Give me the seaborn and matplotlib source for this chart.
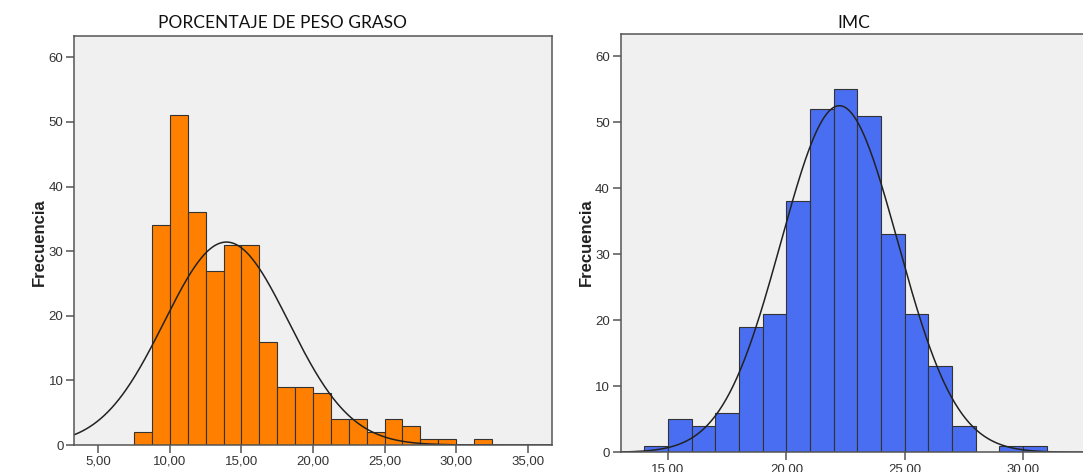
"""
Two SPSS-style histograms with a fitted normal curve:
porcentaje de peso graso (orange) and IMC (blue).
Saves out.png.
"""

import matplotlib

matplotlib.use("Agg")

import matplotlib.pyplot as plt
import numpy as np
import pandas as pd
import seaborn as sns
from matplotlib.ticker import FuncFormatter

# --- data --------------------------------------------------------------------
FAT_EDGES = [7.5, 8.75, 10.0, 11.25, 12.5, 13.75, 15.0, 16.25, 17.5, 18.75, 20.0,
             21.25, 22.5, 23.75, 25.0, 26.25, 27.5, 28.75, 30.0, 31.25, 32.5]
FAT_COUNTS = [2, 34, 51, 36, 27, 31, 31, 16, 9, 9, 8, 4, 4, 2, 4, 3, 1, 1, 0, 1]
FAT_MEAN = 13.95
FAT_SD = 4.35
FAT_TICKS = [5, 10, 15, 20, 25, 30, 35]

IMC_EDGES = [14, 15, 16, 17, 18, 19, 20, 21, 22, 23, 24, 25, 26, 27, 28, 29, 30, 31]
IMC_COUNTS = [1, 5, 4, 6, 19, 21, 38, 52, 55, 51, 33, 21, 13, 4, 0, 1, 1]
IMC_MEAN = 22.24
IMC_SD = 2.47
IMC_TICKS = [15, 20, 25, 30]

Y_TICKS = [0, 10, 20, 30, 40, 50, 60]

ORANGE = "#FF8000"
BLUE = "#4A6EF2"
PANEL_BG = "#F0F0F0"
EDGE = "#333333"
AXIS_GREY = "#555555"

W, H = 1083, 472


def comma_fmt(v, _pos):
    return f"{v:.2f}".replace(".", ",")


def draw_panel(ax, edges, counts, mean, sd, color, xlim, ylim, xticks):
    e = np.asarray(edges, dtype=float)
    c = np.asarray(counts, dtype=float)
    df = pd.DataFrame({"centro": (e[:-1] + e[1:]) / 2, "n": c})

    ax.set_facecolor(PANEL_BG)
    sns.histplot(data=df, x="centro", weights="n", bins=list(edges), ax=ax,
                 color=color, alpha=1, edgecolor=EDGE, linewidth=0.8)

    # normal curve scaled to counts (N * bin width * pdf)
    width = e[1] - e[0]
    xs = np.linspace(xlim[0], xlim[1], 400)
    ys = c.sum() * width * np.exp(-0.5 * ((xs - mean) / sd) ** 2) / (sd * np.sqrt(2 * np.pi))
    sns.lineplot(x=xs, y=ys, ax=ax, color="#222222", linewidth=1.1)

    ax.set_xlim(*xlim)
    ax.set_ylim(*ylim)
    ax.set_xticks(xticks)
    ax.set_yticks(Y_TICKS)
    ax.xaxis.set_major_formatter(FuncFormatter(comma_fmt))
    ax.set_xlabel("")
    ax.set_ylabel("")
    ax.tick_params(bottom=True, left=True, top=False, right=False,
                   direction="out", length=5.8, width=1.1, color=AXIS_GREY,
                   labelsize=9.5, labelcolor="#333333", pad=2)
    for sp in ax.spines.values():
        sp.set_visible(True)
        sp.set_color(AXIS_GREY)
        sp.set_linewidth(1.1)


def main():
    sns.set_theme(style="ticks")
    plt.rcParams["font.family"] = ["Liberation Sans", "DejaVu Sans"]

    fig = plt.figure(figsize=(W / 100, H / 100), dpi=100)
    fig.patch.set_facecolor("white")

    ax1 = fig.add_axes([74.3 / W, 1 - 445 / H, (552.3 - 74.3) / W, (445 - 36) / H])
    ax2 = fig.add_axes([620.7 / W, 1 - 452.3 / H, (1098.8 - 620.7) / W, (452.3 - 33.7) / H])

    draw_panel(ax1, FAT_EDGES, FAT_COUNTS, FAT_MEAN, FAT_SD, ORANGE,
               (3.32, 36.72), (0, 63.3), FAT_TICKS)
    draw_panel(ax2, IMC_EDGES, IMC_COUNTS, IMC_MEAN, IMC_SD, BLUE,
               (13.0, 33.2), (0, 63.4), IMC_TICKS)

    fig.text(283 / W, 1 - 23 / H, "PORCENTAJE DE PESO GRASO", ha="center", va="center",
             fontsize=12.5, family=["Lato", "DejaVu Sans"], color="#111111")
    fig.text(854 / W, 1 - 23 / H, "IMC", ha="center", va="center",
             fontsize=12.5, family=["Lato", "DejaVu Sans"], color="#111111")

    for x in (39, 586):
        fig.text(x / W, 1 - 242 / H, "Frecuencia", rotation=90, ha="center", va="center",
                 fontsize=12, fontweight="bold", color="#222222")

    fig.savefig("out.png", dpi=100)
    plt.close(fig)


if __name__ == "__main__":
    main()
